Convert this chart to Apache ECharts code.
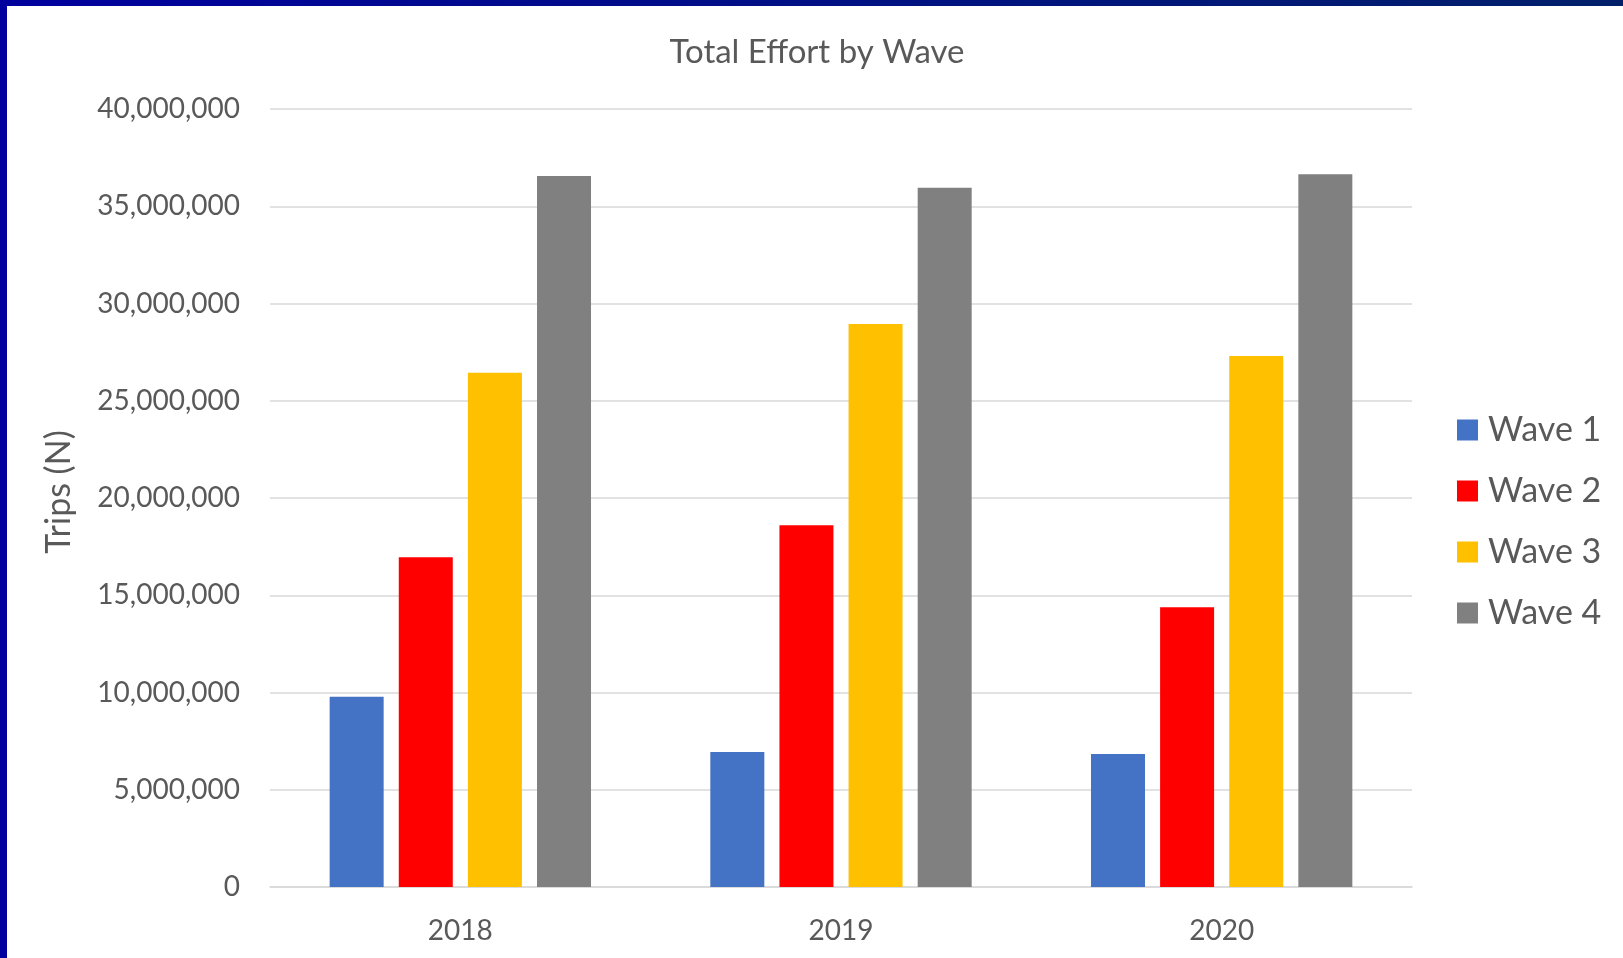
<!DOCTYPE html>
<html>
<head>
<meta charset="utf-8">
<script src="https://cdn.jsdelivr.net/npm/echarts@6/dist/echarts.min.js"></script>
<style>
html,body{margin:0;padding:0;background:#fff;}
#topbar{position:absolute;left:0;top:0;width:1623px;height:6px;background:linear-gradient(to right,#00009e,#00206a);}
#leftbar{position:absolute;left:0;top:0;width:7px;height:958px;background:#00009e;}
#chart{position:absolute;left:0;top:0;width:1623px;height:958px;}
</style>
</head>
<body>
<div id="chart"></div>
<div id="topbar"></div>
<div id="leftbar"></div>
<script>
const categories = ['2018', '2019', '2020'];
const wave1 = [9780000, 6940000, 6840000];
const wave2 = [16950000, 18600000, 14380000];
const wave3 = [26440000, 28950000, 27300000];
const wave4 = [36560000, 35950000, 36640000];
const seriesNames = ['Wave 1', 'Wave 2', 'Wave 3', 'Wave 4'];
const seriesColors = ['#4472C4', '#FF0000', '#FFC000', '#808080'];

const FONT = 'Lato';
const chart = echarts.init(document.getElementById('chart'));
const data = [wave1, wave2, wave3, wave4];
chart.setOption({
  animation: false,
  backgroundColor: '#ffffff',
  title: {
    text: 'Total Effort by Wave',
    left: 812,
    textAlign: 'center',
    top: 31,
    textStyle: { fontFamily: FONT, fontSize: 33, fontWeight: 'normal', color: '#595959' }
  },
  legend: {
    orient: 'vertical',
    left: 1452,
    top: 408,
    itemWidth: 21,
    itemHeight: 21,
    itemGap: 27,
    icon: 'rect',
    data: seriesNames,
    textStyle: { fontFamily: FONT, fontSize: 34, color: '#595959', lineHeight: 30, padding: [0, 0, 0, 5] }
  },
  grid: { left: 270, right: 211, top: 109, bottom: 71, containLabel: false },
  xAxis: {
    type: 'category',
    data: categories,
    axisLine: { lineStyle: { color: '#D9D9D9', width: 1.5 } },
    axisTick: { show: false },
    axisLabel: { fontFamily: FONT, fontSize: 28, color: '#595959', margin: 30 }
  },
  yAxis: {
    type: 'value',
    min: 0,
    max: 40000000,
    interval: 5000000,
    name: 'Trips (N)',
    nameLocation: 'middle',
    nameGap: 194,
    nameTextStyle: { fontFamily: FONT, fontSize: 34, color: '#595959', padding: [0, 0, 0, 12] },
    axisLine: { show: false },
    axisTick: { show: false },
    splitLine: { lineStyle: { color: '#D9D9D9', width: 1.5 } },
    axisLabel: {
      fontFamily: FONT, fontSize: 28, color: '#595959', margin: 30,
      formatter: v => v.toLocaleString('en-US')
    }
  },
  series: seriesNames.map((n, i) => ({
    name: n,
    type: 'bar',
    data: data[i],
    barWidth: 54,
    barGap: '28%',
    itemStyle: { color: seriesColors[i] }
  }))
});
</script>
</body>
</html>
